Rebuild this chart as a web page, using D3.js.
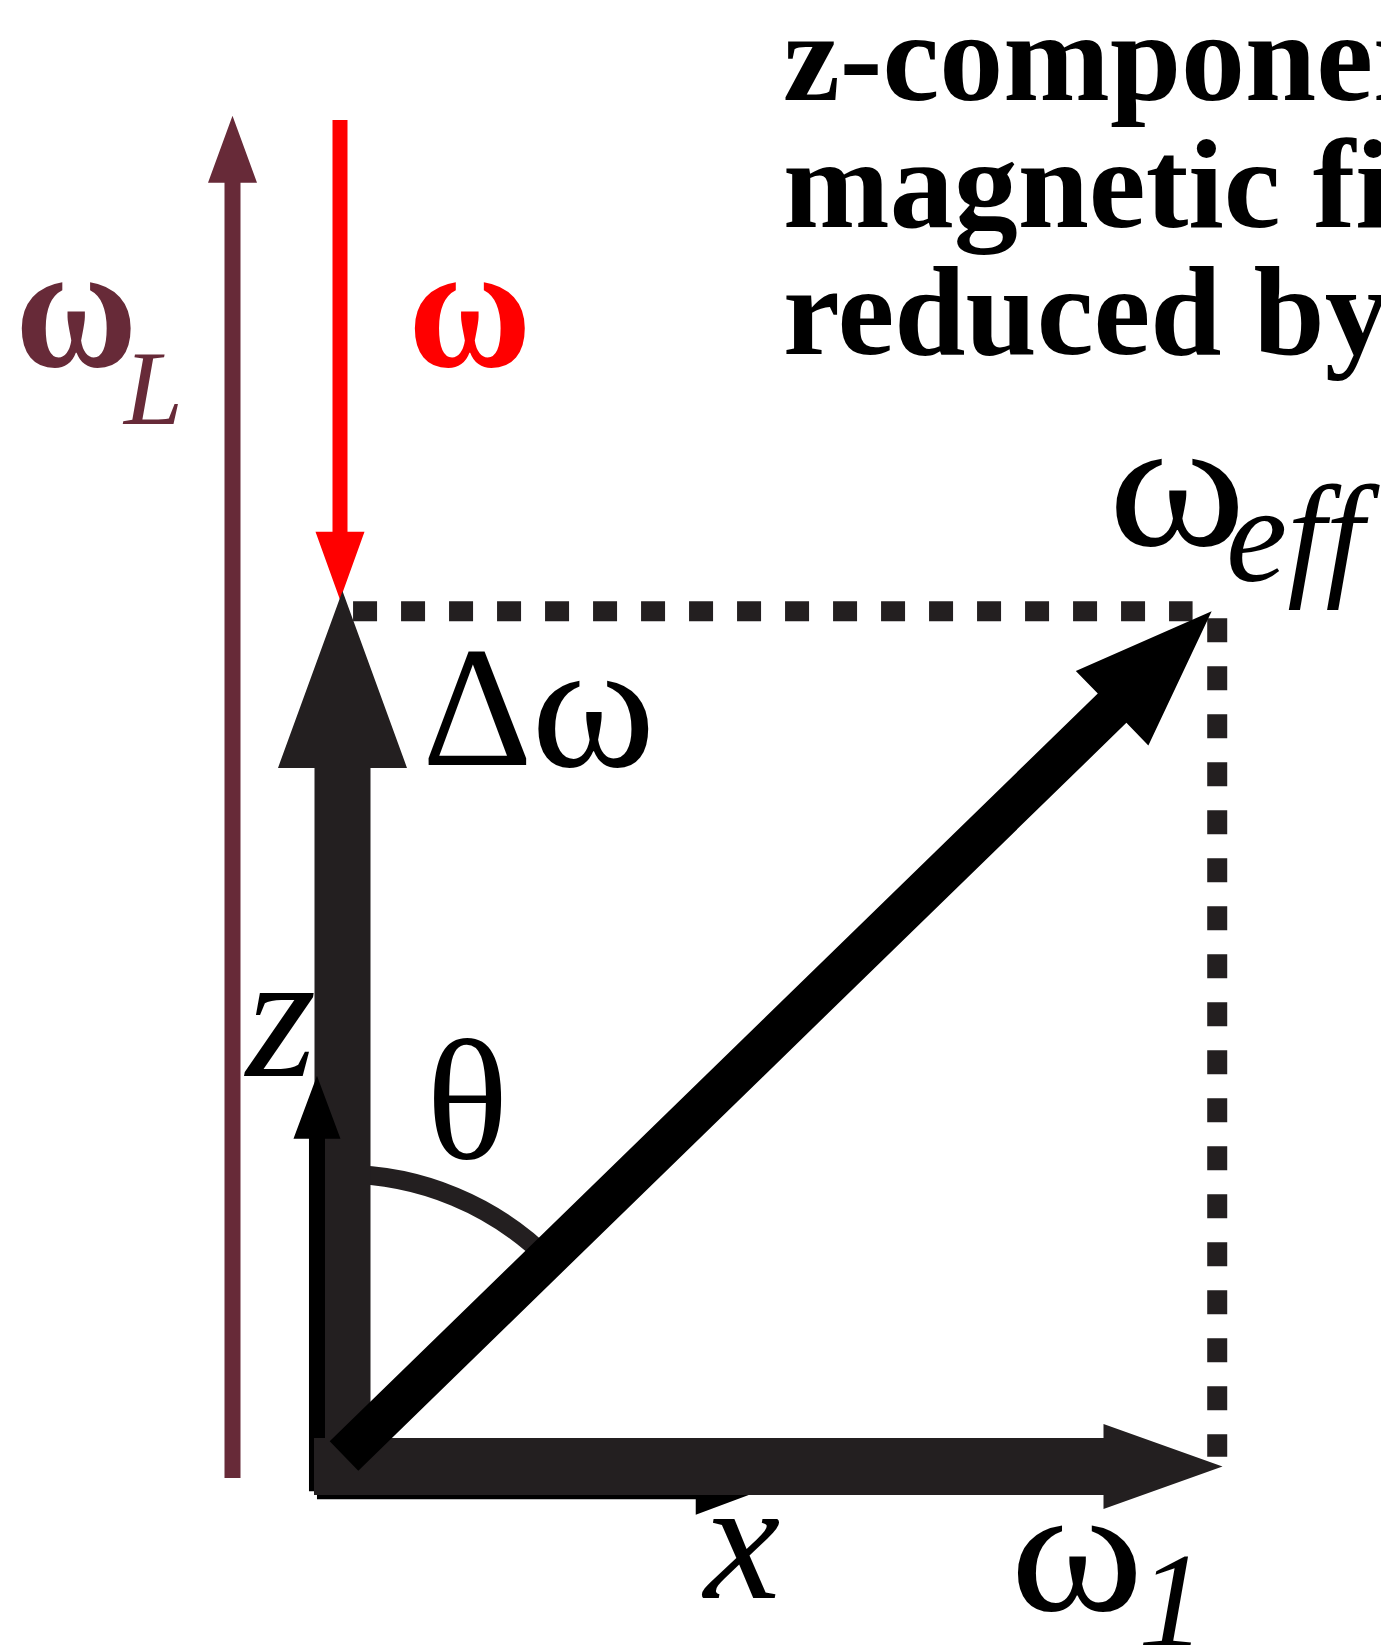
<!DOCTYPE html>
<html>
<head>
<meta charset="utf-8">
<script src="https://cdn.jsdelivr.net/npm/d3@7"></script>
<style>
  body { margin: 0; background: #fff; }
  svg { display: block; }
  text { font-family: "Liberation Serif", "Times New Roman", serif; }
</style>
</head>
<body>
<div id="fig"></div>
<script>
// vectors in the rotating frame, in units of omega1
const vecNames  = ["omegaL", "omega", "deltaOmega", "omega1", "omegaEff"];
const vecStartZ = [0, 1.53, 0, 0, 0];
const vecX      = [0, 0, 0, 1.0, 0.986];
const vecZ      = [1.535, -0.545, 0.995, 0, 0.96];

// thin coordinate axes
const axisNames  = ["x", "z"];
const axisLength = [0.502, 0.472];

// dotted projection lines [x0, z0, x1, z1]
const projections = [
  [0.012, 0.972, 0.966, 0.972],
  [0.994, 0.964, 0.994, 0.011]
];

const thetaRadius = 0.332;

const titleLines = ["z-component of the", "magnetic field is", "reduced by ω"];

var W = 1381, H = 1645;

var svg = d3.select("#fig").append("svg")
    .attr("width", W)
    .attr("height", H);

svg.append("rect").attr("width", W).attr("height", H).attr("fill", "#fff");

var xs = d3.scaleLinear().domain([0, 1]).range([342.5, 1222.5]);
var zs = d3.scaleLinear().domain([0, 1]).range([1466.5, 586.5]);
var unit = xs(1) - xs(0);

var dark = "#231f20";
var maroon = "#672a38";

// drawing style per vector: w shaft, hl head length, hw head half width,
// ox/oy shift of the whole vector, back = extension behind the start
var style = {
  omegaL:     {color: maroon,    w: 16, hl: 67,  hw: 24.5, ox: -110, oy: 0,     back: 11.5},
  omega:      {color: "#ff0000", w: 15, hl: 68,  hw: 24.5, ox: -2.5, oy: 0,     back: 0},
  deltaOmega: {color: dark,      w: 56, hl: 177, hw: 64.5, ox: 0,    oy: 0,     back: 28.5},
  omega1:     {color: dark,      w: 57, hl: 119, hw: 42.5, ox: 0,    oy: 0,     back: 28.5},
  omegaEff:   {color: "#000",    w: 41, hl: 139, hw: 52,   ox: 1.5,  oy: -10.5, back: 0}
};

var line = d3.line();

function arrowPath(x0, y0, x1, y1, s) {
  var len = Math.hypot(x1 - x0, y1 - y0);
  var ux = (x1 - x0) / len, uy = (y1 - y0) / len;
  var nx = -uy, ny = ux;
  var sx = x0 - ux * s.back, sy = y0 - uy * s.back;
  var bx = x1 - ux * s.hl, by = y1 - uy * s.hl;
  var h = s.w / 2;
  return line([
    [sx + nx * h, sy + ny * h],
    [bx + nx * h, by + ny * h],
    [bx + nx * s.hw, by + ny * s.hw],
    [x1, y1],
    [bx - nx * s.hw, by - ny * s.hw],
    [bx - nx * h, by - ny * h],
    [sx - nx * h, sy - ny * h]
  ]) + "Z";
}

function drawVector(name) {
  var i = vecNames.indexOf(name), s = style[name];
  var x0 = xs(0) + s.ox, y0 = zs(vecStartZ[i]) + s.oy;
  var x1 = x0 + vecX[i] * unit, y1 = y0 - vecZ[i] * unit;
  svg.append("path")
    .attr("class", "vec " + name)
    .attr("d", arrowPath(x0, y0, x1, y1, s))
    .attr("fill", s.color);
}

// thin x / z axes start a little off the vector origin
var axisOrigin = [-0.029, -0.028];
var axisStyle = {w: 16, hl: 63, hw: 23.5, back: 0};

function drawAxis(name) {
  var i = axisNames.indexOf(name);
  var x0 = xs(axisOrigin[0]), y0 = zs(axisOrigin[1]);
  var x1 = name == "x" ? xs(axisOrigin[0] + axisLength[i]) : x0;
  var y1 = name == "z" ? zs(axisOrigin[1] + axisLength[i]) : y0;
  svg.append("path")
    .attr("class", "axis " + name)
    .attr("d", arrowPath(x0, y0, x1, y1, axisStyle))
    .attr("fill", "#000");
}

// background arrows
drawVector("omegaL");
drawVector("omega");

// dotted projections
svg.selectAll(".proj").data(projections).enter().append("line")
    .attr("class", "proj")
    .attr("x1", function(d) { return xs(d[0]); })
    .attr("y1", function(d) { return zs(d[1]); })
    .attr("x2", function(d) { return xs(d[2]); })
    .attr("y2", function(d) { return zs(d[3]); })
    .attr("stroke", dark)
    .attr("stroke-width", 20)
    .attr("stroke-dasharray", "24 24");

// theta arc between z and omega_eff
var ie = vecNames.indexOf("omegaEff");
var thetaEnd = Math.atan2(vecX[ie], vecZ[ie]);
var r = thetaRadius * unit;
svg.append("path")
    .attr("class", "theta-arc")
    .attr("transform", "translate(" + xs(0) + "," + zs(0) + ")")
    .attr("d", d3.arc()({innerRadius: r - 9.5, outerRadius: r + 9.5,
                         startAngle: 0, endAngle: thetaEnd - 0.01}))
    .attr("fill", dark);

drawVector("deltaOmega");
drawAxis("x");
drawAxis("z");
drawVector("omega1");
drawVector("omegaEff");

// labels: each piece is its own text so it can be stretched sideways
function label(x, y, t, o) {
  var el = svg.append("text")
      .attr("transform", "translate(" + x + "," + y + ") scale(" + (o.sx || 1) + ",1)")
      .attr("font-size", o.size)
      .attr("fill", o.color || "#000")
      .text(t);
  if (o.bold) el.attr("font-weight", "bold");
  if (o.italic) el.attr("font-style", "italic");
  return el;
}

label(15, 366, "ω", {size: 178, bold: true, color: maroon, sx: 0.94});
label(124, 424, "L", {size: 106, italic: true, color: maroon});
label(408, 366, "ω", {size: 178, bold: true, color: "#ff0000", sx: 0.95});

label(422, 765, "Δ", {size: 172});
label(531, 766, "ω", {size: 182, sx: 1.04});

label(426, 1158, "θ", {size: 172});
label(246, 1076, "z", {size: 180, italic: true});
label(704, 1598, "x", {size: 172, italic: true});

label(1010, 1610, "ω", {size: 180, sx: 1.13});
label(1138, 1646, "1", {size: 135, italic: true});

label(1108, 545, "ω", {size: 184, sx: 1.14});
label(1226, 581, "eff", {size: 138, italic: true});

// title, cut by the right edge as in the original figure
svg.selectAll(".title").data(titleLines).enter().append("text")
    .attr("class", "title")
    .attr("x", 783)
    .attr("y", function(d, i) { return 100 + i * 127; })
    .attr("font-size", 128)
    .attr("font-weight", "bold")
    .text(function(d) { return d; });
</script>
</body>
</html>
